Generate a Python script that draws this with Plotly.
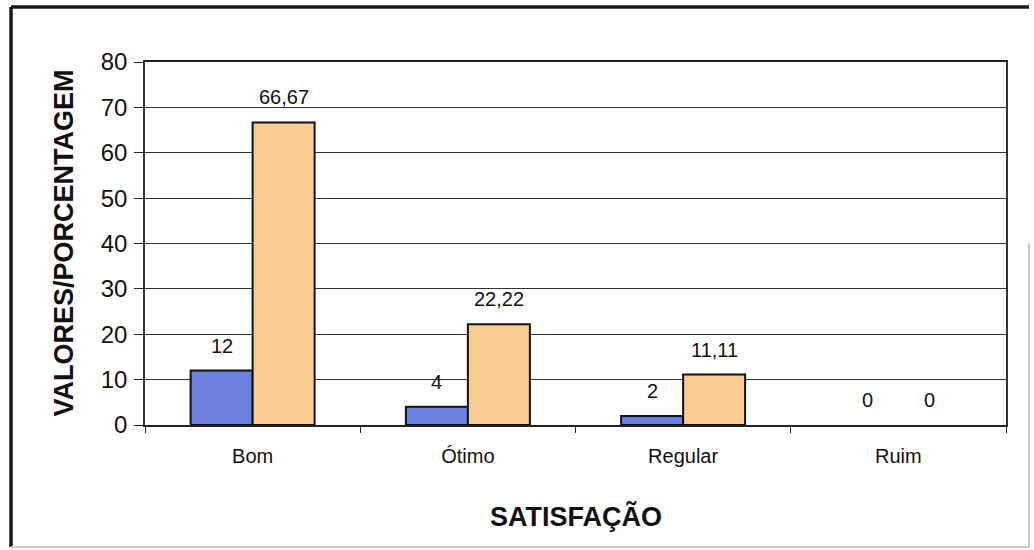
import plotly.graph_objects as go

categories = ["Bom", "Ótimo", "Regular", "Ruim"]
valores = [12, 4, 2, 0]
porcentagem = [66.67, 22.22, 11.11, 0]
y_ticks = [0, 10, 20, 30, 40, 50, 60, 70, 80]


def fmt(v):
    s = ("%g" % v)
    return s.replace(".", ",")


BLUE = "#6b80de"
TAN = "#f8cc90"
FONT = "Liberation Sans, Arial"

fig = go.Figure()
fig.add_trace(go.Bar(x=categories, y=valores, name="Valores",
                     marker=dict(color=BLUE, line=dict(color="#111111",
                                                       width=[2 if v else 0 for v in valores]))))
fig.add_trace(go.Bar(x=categories, y=porcentagem, name="Porcentagem",
                     marker=dict(color=TAN, line=dict(color="#111111",
                                                      width=[2 if v else 0 for v in porcentagem]))))

# data labels
for cat, v in zip(categories, valores):
    fig.add_annotation(x=cat, y=v, text=fmt(v), showarrow=False, xshift=-31, yshift=25,
                       yanchor="middle", font=dict(family=FONT, size=20, color="#111"))
for cat, v in zip(categories, porcentagem):
    fig.add_annotation(x=cat, y=v, text=fmt(v), showarrow=False, xshift=31, yshift=25,
                       yanchor="middle", font=dict(family=FONT, size=20, color="#111"))

# axis titles
fig.add_annotation(xref="paper", yref="paper", x=-0.0952, y=0.5, text="<b>VALORES/PORCENTAGEM</b>",
                   textangle=-90, showarrow=False, xanchor="center", yanchor="middle",
                   font=dict(family=FONT, size=27, color="#111"))
fig.add_annotation(xref="paper", yref="paper", x=0.5, y=-0.2534, text="<b>SATISFAÇÃO</b>",
                   showarrow=False, xanchor="center", yanchor="middle",
                   font=dict(family=FONT, size=27, color="#111"))

# outer frame
frame = dict(xref="paper", yref="paper", type="line")
fig.add_shape(**frame, x0=-0.1556, x1=-0.1556, y0=-0.3361, y1=1.1515, line=dict(color="#1a1a1a", width=3.5))
fig.add_shape(**frame, x0=-0.1556, x1=1.0267, y0=1.1515, y1=1.1515, line=dict(color="#1a1a1a", width=3.5))
fig.add_shape(**frame, x0=-0.1556, x1=1.0267, y0=-0.3361, y1=-0.3361, line=dict(color="#c8c8c8", width=2))
fig.add_shape(**frame, x0=1.0267, x1=1.0267, y0=-0.3361, y1=0.5, line=dict(color="#c8c8c8", width=2))

fig.update_layout(
    width=1034, height=550,
    margin=dict(l=145, r=28, t=62, b=125),
    paper_bgcolor="white", plot_bgcolor="white",
    barmode="group", bargap=0.424, bargroupgap=0,
    showlegend=False,
    font=dict(family=FONT, color="#111"),
)
fig.update_xaxes(
    showline=True, linecolor="#222", linewidth=1.5, mirror=True,
    ticks="outside", tickson="boundaries", ticklen=6, tickcolor="#222",
    tickfont=dict(size=20, color="#111"), ticklabelstandoff=12, showgrid=False,
)
fig.update_yaxes(
    range=[0, 80], tickvals=y_ticks, showline=True, linecolor="#333", linewidth=1.5, mirror=True,
    ticks="outside", ticklen=9, tickcolor="#222",
    tickfont=dict(size=24, color="#111"), ticklabelstandoff=2,
    showgrid=True, gridcolor="#333", gridwidth=1, zeroline=False,
)

fig.write_html("out.html")
